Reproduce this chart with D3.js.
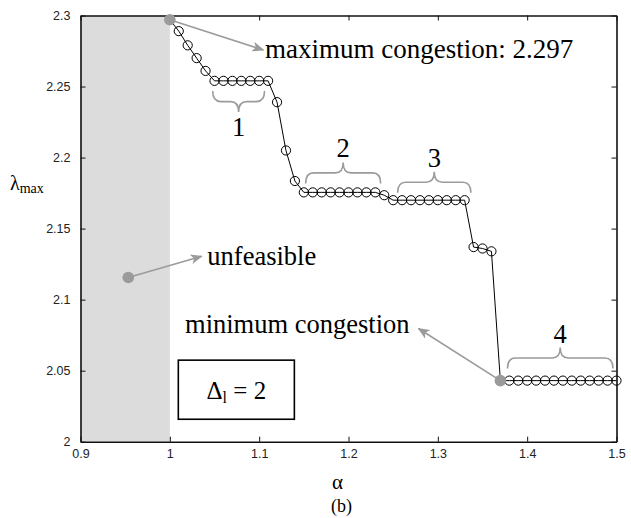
<!DOCTYPE html>
<html>
<head>
<meta charset="utf-8">
<script src="https://cdn.jsdelivr.net/npm/d3@7"></script>
<style>
  body { margin: 0; background: #fff; }
  svg { display: block; }
  .serif { font-family: "Liberation Serif", "DejaVu Serif", "Times New Roman", serif; }
</style>
</head>
<body>
<script>
// data
var alphaVals = [1.00, 1.01, 1.02, 1.03, 1.04, 1.05, 1.06, 1.07, 1.08, 1.09,
                 1.10, 1.11, 1.12, 1.13, 1.14, 1.15, 1.16, 1.17, 1.18, 1.19,
                 1.20, 1.21, 1.22, 1.23, 1.24, 1.25, 1.26, 1.27, 1.28, 1.29,
                 1.30, 1.31, 1.32, 1.33, 1.34, 1.35, 1.36, 1.37, 1.38, 1.39,
                 1.40, 1.41, 1.42, 1.43, 1.44, 1.45, 1.46, 1.47, 1.48, 1.49, 1.50];
var lambdaVals = [2.297, 2.289, 2.279, 2.270, 2.261, 2.254, 2.254, 2.254, 2.254, 2.254,
                  2.254, 2.254, 2.239, 2.205, 2.1835, 2.1755, 2.1755, 2.1755, 2.1755, 2.1755,
                  2.1755, 2.1755, 2.1755, 2.1755, 2.1735, 2.170, 2.170, 2.170, 2.170, 2.170,
                  2.170, 2.170, 2.170, 2.170, 2.137, 2.136, 2.134, 2.043, 2.043, 2.043,
                  2.043, 2.043, 2.043, 2.043, 2.043, 2.043, 2.043, 2.043, 2.043, 2.043, 2.043];
var highlightAlpha = [1.00, 1.37];   // grey filled points (max / min congestion)

var xTicks = [0.9, 1.0, 1.1, 1.2, 1.3, 1.4, 1.5];
var xTickLabels = ["0.9", "1", "1.1", "1.2", "1.3", "1.4", "1.5"];
var yTicks = [2.0, 2.05, 2.1, 2.15, 2.2, 2.25, 2.3];
var yTickLabels = ["2", "2.05", "2.1", "2.15", "2.2", "2.25", "2.3"];

var unfeasibleRange = [0.9, 1.0];

// curly braces over the plateaus
var braceLabels = ["1", "2", "3", "4"];
var braceFrom = [1.048, 1.152, 1.255, 1.378];
var braceTo = [1.106, 1.236, 1.337, 1.496];
var braceBase = [2.2468, 2.1818, 2.1752, 2.0515];
var braceDir = [1, -1, -1, -1];   // 1 = opens downward

// annotations (data coordinates)
var annotTexts = ["maximum congestion: 2.297", "unfeasible", "minimum congestion"];
var annotFrom = [[1.00, 2.297], [0.9535, 2.1156], [1.37, 2.043]];
var annotTip = [[1.1047, 2.2757], [1.0357, 2.1306], [1.2783, 2.0797]];
var annotTextAt = [[1.1066, 2.2701], [1.042, 2.1243], [1.017, 2.0762]];
var boxCorners = [[1.0095, 2.0574], [1.1394, 2.0158]];

// set the dimensions and margins of the graph
var margin = {top: 15.5, left: 80.5},
    width = 536,
    height = 426.2,
    grey = "#9b9b9b";

var x = d3.scaleLinear().domain([0.9, 1.5]).range([0, width]);
var y = d3.scaleLinear().domain([2.0, 2.3]).range([height, 0]);

var svg = d3.select("body").append("svg")
    .attr("width", 631)
    .attr("height", 518);

var defs = svg.append("defs");
defs.append("marker")
    .attr("id", "arrow")
    .attr("viewBox", "0 0 12 10")
    .attr("refX", 11).attr("refY", 5)
    .attr("markerWidth", 12).attr("markerHeight", 10)
    .attr("markerUnits", "userSpaceOnUse")
    .attr("orient", "auto")
    .append("path")
    .attr("d", "M0,0 L12,5 L0,10 L3,5 Z")
    .attr("fill", grey);

var g = svg.append("g")
    .attr("transform", "translate(" + margin.left + "," + margin.top + ")");

// unfeasible region
g.append("rect")
    .attr("x", x(unfeasibleRange[0]))
    .attr("y", 0)
    .attr("width", x(unfeasibleRange[1]) - x(unfeasibleRange[0]))
    .attr("height", height)
    .attr("fill", "#dcdcdc");

// axes, ticks pointing inward
function styleAxis(sel) {
    sel.selectAll(".domain").attr("stroke", "#111").attr("stroke-width", 1.6);
    sel.selectAll(".tick line").attr("stroke", "#111").attr("stroke-width", 1);
    sel.selectAll(".tick text")
        .attr("fill", "#222")
        .attr("font-family", "Liberation Sans, Arial, sans-serif")
        .attr("font-size", "12.5px");
}

g.append("g")
    .attr("transform", "translate(0," + height + ")")
    .call(d3.axisBottom(x).tickValues(xTicks)
        .tickFormat(function(d, i) { return xTickLabels[i]; })
        .tickSizeInner(-5).tickSizeOuter(0).tickPadding(7))
    .call(styleAxis);

g.append("g")
    .call(d3.axisTop(x).tickValues(xTicks).tickFormat("")
        .tickSizeInner(-5).tickSizeOuter(0))
    .call(styleAxis);

g.append("g")
    .call(d3.axisLeft(y).tickValues(yTicks)
        .tickFormat(function(d, i) { return yTickLabels[i]; })
        .tickSizeInner(-5).tickSizeOuter(0).tickPadding(10))
    .call(styleAxis);

g.append("g")
    .attr("transform", "translate(" + width + ",0)")
    .call(d3.axisRight(y).tickValues(yTicks).tickFormat("")
        .tickSizeInner(-5).tickSizeOuter(0))
    .call(styleAxis);

// the curve
var points = alphaVals.map(function(a, i) { return {a: a, l: lambdaVals[i]}; });

var line = d3.line()
    .x(function(d) { return x(d.a); })
    .y(function(d) { return y(d.l); });

g.append("path")
    .datum(points)
    .attr("fill", "none")
    .attr("stroke", "#000")
    .attr("stroke-width", 1)
    .attr("d", line);

g.selectAll("circle.pt")
    .data(points.filter(function(d) { return highlightAlpha.indexOf(d.a) < 0; }))
    .enter().append("circle")
    .attr("class", "pt")
    .attr("cx", function(d) { return x(d.a); })
    .attr("cy", function(d) { return y(d.l); })
    .attr("r", 4.6)
    .attr("fill", "none")
    .attr("stroke", "#000")
    .attr("stroke-width", 1);

g.selectAll("circle.hl")
    .data(points.filter(function(d) { return highlightAlpha.indexOf(d.a) >= 0; }))
    .enter().append("circle")
    .attr("class", "hl")
    .attr("cx", function(d) { return x(d.a); })
    .attr("cy", function(d) { return y(d.l); })
    .attr("r", 5.8)
    .attr("fill", grey);

// braces
function bracePath(x0, x1, y0, s) {
    var d = 21, h = d / 2, r = 8, xm = (x0 + x1) / 2;
    return "M" + x0 + "," + y0 +
        " Q" + x0 + "," + (y0 + s * h) + " " + (x0 + r) + "," + (y0 + s * h) +
        " L" + (xm - r) + "," + (y0 + s * h) +
        " Q" + xm + "," + (y0 + s * h) + " " + xm + "," + (y0 + s * d) +
        " Q" + xm + "," + (y0 + s * h) + " " + (xm + r) + "," + (y0 + s * h) +
        " L" + (x1 - r) + "," + (y0 + s * h) +
        " Q" + x1 + "," + (y0 + s * h) + " " + x1 + "," + y0;
}

braceLabels.forEach(function(lab, i) {
    var x0 = x(braceFrom[i]), x1 = x(braceTo[i]), y0 = y(braceBase[i]), s = braceDir[i];
    g.append("path")
        .attr("d", bracePath(x0, x1, y0, s))
        .attr("fill", "none")
        .attr("stroke", grey)
        .attr("stroke-width", 1.6);
    g.append("text")
        .attr("class", "serif")
        .attr("x", (x0 + x1) / 2)
        .attr("y", s > 0 ? y0 + 21 + 24 : y0 - 21 - 5)
        .attr("text-anchor", "middle")
        .attr("font-size", "26.5px")
        .text(lab);
});

// annotations
g.append("circle")
    .attr("cx", x(annotFrom[1][0]))
    .attr("cy", y(annotFrom[1][1]))
    .attr("r", 5.8)
    .attr("fill", grey);

annotTexts.forEach(function(t, i) {
    g.append("line")
        .attr("x1", x(annotFrom[i][0])).attr("y1", y(annotFrom[i][1]))
        .attr("x2", x(annotTip[i][0])).attr("y2", y(annotTip[i][1]))
        .attr("stroke", grey)
        .attr("stroke-width", 1.6)
        .attr("marker-end", "url(#arrow)");
    g.append("text")
        .attr("class", "serif")
        .attr("x", x(annotTextAt[i][0]))
        .attr("y", y(annotTextAt[i][1]))
        .attr("font-size", i === 0 ? "27px" : "26.5px")
        .text(t);
});

// Delta box
var bx0 = x(boxCorners[0][0]), by0 = y(boxCorners[0][1]),
    bx1 = x(boxCorners[1][0]), by1 = y(boxCorners[1][1]);
g.append("rect")
    .attr("x", bx0).attr("y", by0)
    .attr("width", bx1 - bx0).attr("height", by1 - by0)
    .attr("fill", "#fff")
    .attr("stroke", "#000")
    .attr("stroke-width", 1.6);

var dt = g.append("text")
    .attr("class", "serif")
    .attr("x", (bx0 + bx1) / 2)
    .attr("y", (by0 + by1) / 2 + 9)
    .attr("text-anchor", "middle")
    .attr("font-size", "25px");
dt.append("tspan").text("\u0394");
dt.append("tspan").attr("dy", 4).attr("font-size", "16px").text("l");
dt.append("tspan").attr("dy", -4).text(" = 2");

// axis labels
svg.append("text")
    .attr("class", "serif")
    .attr("x", 332)
    .attr("y", 489)
    .attr("font-size", "21px")
    .text("\u03b1");

svg.append("text")
    .attr("class", "serif")
    .attr("x", 331)
    .attr("y", 512)
    .attr("font-size", "18px")
    .text("(b)");

var yl = svg.append("text")
    .attr("class", "serif")
    .attr("x", 10)
    .attr("y", 190)
    .attr("font-size", "20px");
yl.append("tspan").text("\u03bb");
yl.append("tspan").attr("dy", 3).attr("font-size", "14px").text("max");
</script>
</body>
</html>
